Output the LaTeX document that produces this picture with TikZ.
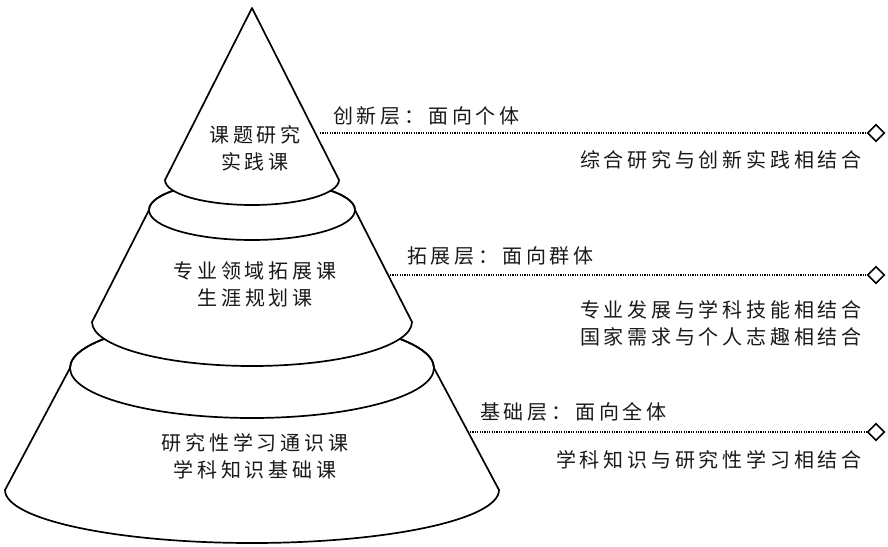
\documentclass[tikz,border=0pt]{standalone}
\usepackage{fontspec}
\usetikzlibrary{shapes.geometric}
\newfontfamily\cjk[LetterSpace=19]{Noto Sans CJK SC}
\tikzset{
  piece/.style={draw=black, line width=1.7pt, fill=white, line join=round},
  txt/.style={font=\cjk\fontsize{20}{27}\selectfont, inner sep=0pt, text=black!90},
  dotline/.style={draw=black, line width=1.5pt, dash pattern=on 1.2pt off 1.2pt},
  endmark/.style={diamond, draw=black, fill=white, line width=1.6pt, minimum size=17pt, inner sep=0pt}
}
\begin{document}
\begin{tikzpicture}[x=1pt, y=-1pt]
\useasboundingbox (0,0) rectangle (888,546);
% bottom frustum
\path[piece] (70,368) -- (5,490) arc[start angle=180, end angle=0, x radius=247, y radius=53]
  -- (434,368) arc[start angle=0, end angle=-180, x radius=182, y radius=50] -- cycle;
\draw[piece, fill=none] (252,368) ellipse[x radius=182, y radius=50];
% middle frustum
\path[piece] (149,210) -- (92,322) arc[start angle=180, end angle=0, x radius=160, y radius=44]
  -- (355,210) arc[start angle=0, end angle=-180, x radius=103, y radius=30] -- cycle;
\draw[piece, fill=none] (252,210) ellipse[x radius=103, y radius=30];
% top cone
\path[piece] (252,8) -- (165,180) arc[start angle=180, end angle=0, x radius=87, y radius=25] -- cycle;
% pyramid texts
\node[txt, align=center] (t1) at (255,148) {课题研究\\实践课};
\node[txt, align=center] (t2) at (255,284) {专业领域拓展课\\生涯规划课};
\node[txt, align=center] (t3) at (255,456) {研究性学习通识课\\学科知识基础课};
% level connectors
\coordinate (s1) at (320,133);
\coordinate (s2) at (390,275);
\coordinate (s3) at (470,432);
\node[endmark] (d1) at (876,133) {};
\node[endmark] (d2) at (876,275) {};
\node[endmark] (d3) at (876,432) {};
\draw[dotline] (s1) -- (d1.west);
\draw[dotline] (s2) -- (d2.west);
\draw[dotline] (s3) -- (d3.west);
% labels
\node[txt, anchor=west] (l1) at (333,116) {创新层：面向个体};
\node[txt, anchor=west] (l2) at (407,256) {拓展层：面向群体};
\node[txt, anchor=west] (l3) at (480,412) {基础层：面向全体};
\node[txt, anchor=east] (r1) at (862,160) {综合研究与创新实践相结合};
\node[txt, anchor=east, align=right] (r2) at (862,323) {专业发展与学科技能相结合\\国家需求与个人志趣相结合};
\node[txt, anchor=east] (r3) at (862,460) {学科知识与研究性学习相结合};
\end{tikzpicture}
\end{document}
